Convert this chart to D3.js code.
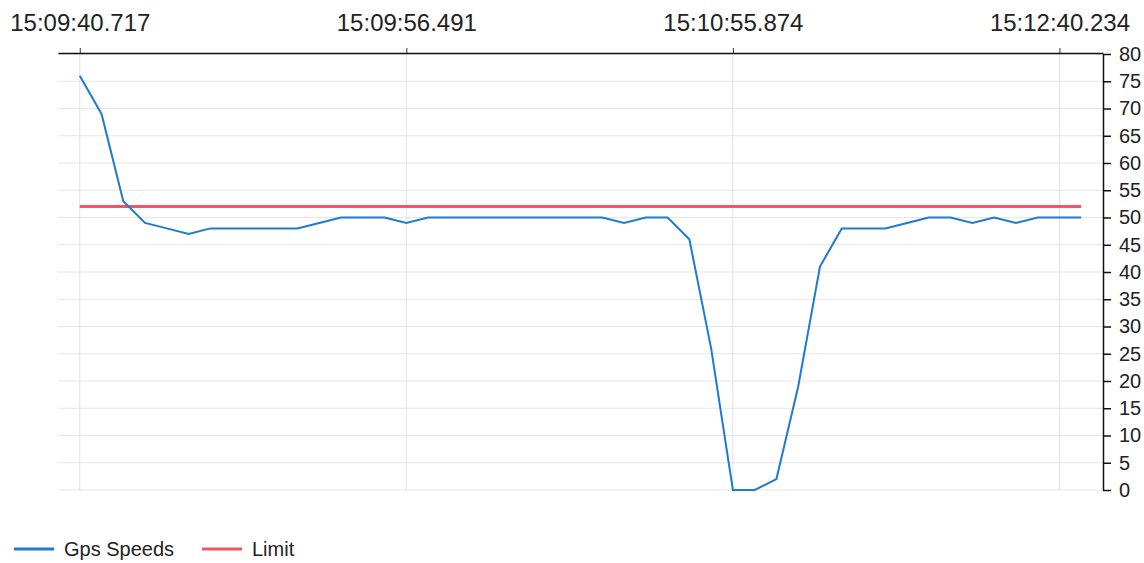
<!DOCTYPE html>
<html>
<head>
<meta charset="utf-8">
<script src="https://cdn.jsdelivr.net/npm/d3@7"></script>
<style>
  body { margin: 0; background: #fff; }
  svg text { font-family: "Liberation Sans", Arial, Helvetica, sans-serif; fill: #222; }
</style>
</head>
<body>
<svg id="chart" width="1144" height="563"></svg>
<script>
// ---- data ----
const samples = [0,1,2,3,4,5,6,7,8,9,10,11,12,13,14,15,16,17,18,19,20,21,22,23,24,25,26,27,28,29,30,31,32,33,34,35,36,37,38,39,40,41,42,43,44,45,46];
const gpsSpeeds = [76,69,53,49,48,47,48,48,48,48,48,49,50,50,50,49,50,50,50,50,50,50,50,50,50,49,50,50,46,26,0,0,2,19,41,48,48,48,49,50,50,49,50,49,50,50,50];
const limit = [52,52,52,52,52,52,52,52,52,52,52,52,52,52,52,52,52,52,52,52,52,52,52,52,52,52,52,52,52,52,52,52,52,52,52,52,52,52,52,52,52,52,52,52,52,52,52];
const tickSamples = [0, 15, 30, 45];
const tickLabels = ["15:09:40.717", "15:09:56.491", "15:10:55.874", "15:12:40.234"];
const yTicks = [0,5,10,15,20,25,30,35,40,45,50,55,60,65,70,75,80];
const seriesNames = ["Gps Speeds", "Limit"];
const seriesColors = ["#1f7ad0", "#f0566a"];

// ---- layout ----
const plotLeft = 58, plotRight = 1103, plotTop = 54, plotBottom = 490;
const svg = d3.select("#chart");

const x = d3.scalePoint().domain(samples).range([plotLeft, plotRight]).padding(1);
const y = d3.scaleLinear().domain([0, 80]).range([plotBottom, plotTop]);

// grid
const grid = svg.append("g");
grid.selectAll("line.h").data(yTicks).join("line")
  .attr("class", "h")
  .attr("x1", plotLeft).attr("x2", plotRight)
  .attr("y1", d => y(d)).attr("y2", d => y(d))
  .attr("stroke", "#e6e6e6").attr("stroke-width", 1);
grid.selectAll("line.v").data(tickSamples).join("line")
  .attr("class", "v")
  .attr("x1", d => x(d)).attr("x2", d => x(d))
  .attr("y1", plotTop).attr("y2", plotBottom)
  .attr("stroke", "#e2e2e2").attr("stroke-width", 1);

// lines
const line = d3.line().x((d, i) => x(samples[i])).y(d => y(d));
svg.append("path").datum(limit)
  .attr("d", line).attr("fill", "none")
  .attr("stroke", seriesColors[1]).attr("stroke-width", 3);
svg.append("path").datum(gpsSpeeds)
  .attr("d", line).attr("fill", "none")
  .attr("stroke", seriesColors[0]).attr("stroke-width", 2)
  .attr("stroke-linejoin", "miter");

// top axis
const xAxis = d3.axisTop(x)
  .tickValues(tickSamples)
  .tickFormat((d, i) => tickLabels[i])
  .tickSize(5).tickSizeOuter(0).tickPadding(17);
const gx = svg.append("g").attr("transform", `translate(0,${plotTop - 1})`).call(xAxis);
gx.select(".domain").attr("stroke", "#111").attr("stroke-width", 1.5);
gx.selectAll(".tick line").attr("stroke", "#333");
gx.selectAll(".tick text").attr("font-size", 24).attr("fill", "#222")
  .style("font-family", '"Liberation Sans", Arial, sans-serif');

// right axis
const yAxis = d3.axisRight(y)
  .tickValues(yTicks)
  .tickSize(8).tickSizeOuter(0).tickPadding(8);
const gy = svg.append("g").attr("transform", `translate(${plotRight},0)`).call(yAxis);
gy.select(".domain").attr("stroke", "#111").attr("stroke-width", 1.5);
gy.selectAll(".tick line").attr("stroke", "#111").attr("stroke-width", 1.5);
gy.selectAll(".tick text").attr("font-size", 20).attr("fill", "#222")
  .style("font-family", '"Liberation Sans", Arial, sans-serif');

// legend
const legendX = [14, 202];
const lg = svg.append("g");
seriesNames.forEach((name, i) => {
  lg.append("line")
    .attr("x1", legendX[i]).attr("x2", legendX[i] + 40)
    .attr("y1", 549).attr("y2", 549)
    .attr("stroke", seriesColors[i]).attr("stroke-width", 3);
  lg.append("text")
    .attr("x", legendX[i] + 50).attr("y", 556)
    .attr("font-size", 20)
    .text(name);
});
</script>
</body>
</html>
